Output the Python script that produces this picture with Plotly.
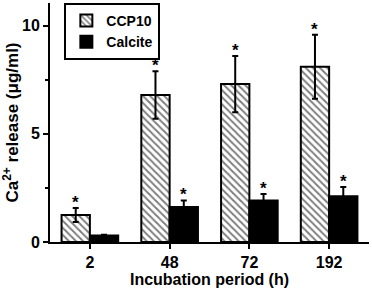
import plotly.graph_objects as go

categories = ["2", "48", "72", "192"]
ccp10 = [1.25, 6.8, 7.3, 8.1]
ccp10_err = [0.32, 1.1, 1.3, 1.48]
calcite = [0.3, 1.62, 1.92, 2.12]
calcite_err = [0.03, 0.3, 0.3, 0.42]
ccp10_sig = [True, True, True, True]
calcite_sig = [False, True, True, True]

FONT = "Liberation Sans"

fig = go.Figure()
fig.add_trace(go.Bar(
    name="<b>CCP10</b>", x=categories, y=ccp10,
    marker=dict(color="white", line=dict(color="black", width=2),
                pattern=dict(shape="\\", size=5, solidity=0.4, fgcolor="black", bgcolor="white")),
    error_y=dict(type="data", array=ccp10_err, color="black", thickness=2, width=3),
))
fig.add_trace(go.Bar(
    name="<b>Calcite</b>", x=categories, y=calcite,
    marker=dict(color="black", line=dict(color="black", width=2)),
    error_y=dict(type="data", array=calcite_err, color="black", thickness=2, width=3),
))

bar_px = 28.3
for i, c in enumerate(categories):
    if ccp10_sig[i]:
        fig.add_annotation(x=i, y=ccp10[i] + ccp10_err[i], text="<b>*</b>", showarrow=False,
                           xshift=-bar_px / 2, yshift=-6, yanchor="bottom",
                           font=dict(family=FONT, size=17, color="black"))
    if calcite_sig[i]:
        fig.add_annotation(x=i, y=calcite[i] + calcite_err[i], text="<b>*</b>", showarrow=False,
                           xshift=bar_px / 2, yshift=-6, yanchor="bottom",
                           font=dict(family=FONT, size=17, color="black"))

fig.update_layout(
    width=372, height=288,
    margin=dict(l=50, r=3, t=3, b=46),
    plot_bgcolor="white", paper_bgcolor="white",
    barmode="group", bargap=0.29, bargroupgap=0,
    font=dict(family=FONT, color="black"),
    showlegend=True,
    legend=dict(x=0.045, y=1.0, xanchor="left", yanchor="top",
                bordercolor="black", borderwidth=2, bgcolor="white",
                font=dict(family=FONT, size=14, color="black"),
                tracegroupgap=0, itemwidth=30),
)
fig.update_xaxes(
    type="category", range=[-0.5, 3.5], automargin=False,
    showline=True, linecolor="black", linewidth=2,
    ticks="outside", ticklen=5, tickwidth=2, tickcolor="black",
    showgrid=False, zeroline=False,
    tickfont=dict(family=FONT, size=16, color="black", weight="bold"),
    title=dict(text="<b>Incubation period (h)</b>", standoff=0,
               font=dict(family=FONT, size=16, color="black")),
)
fig.update_yaxes(
    range=[0, 11.05], tickvals=[0, 5, 10], automargin=False,
    showline=True, linecolor="black", linewidth=2,
    ticks="outside", ticklen=5, tickwidth=2, tickcolor="black",
    minor=dict(tickvals=[2.5, 7.5], ticks="outside", ticklen=3, tickwidth=2, tickcolor="black"),
    showgrid=False, zeroline=False,
    tickfont=dict(family=FONT, size=16, color="black", weight="bold"),
    title=dict(text="<b>Ca<sup>2+</sup> release (μg/ml)</b>", standoff=4,
               font=dict(family=FONT, size=17, color="black")),
)

fig.write_html("out.html", config={"displayModeBar": False},
               post_script="document.body.style.margin='0';")
